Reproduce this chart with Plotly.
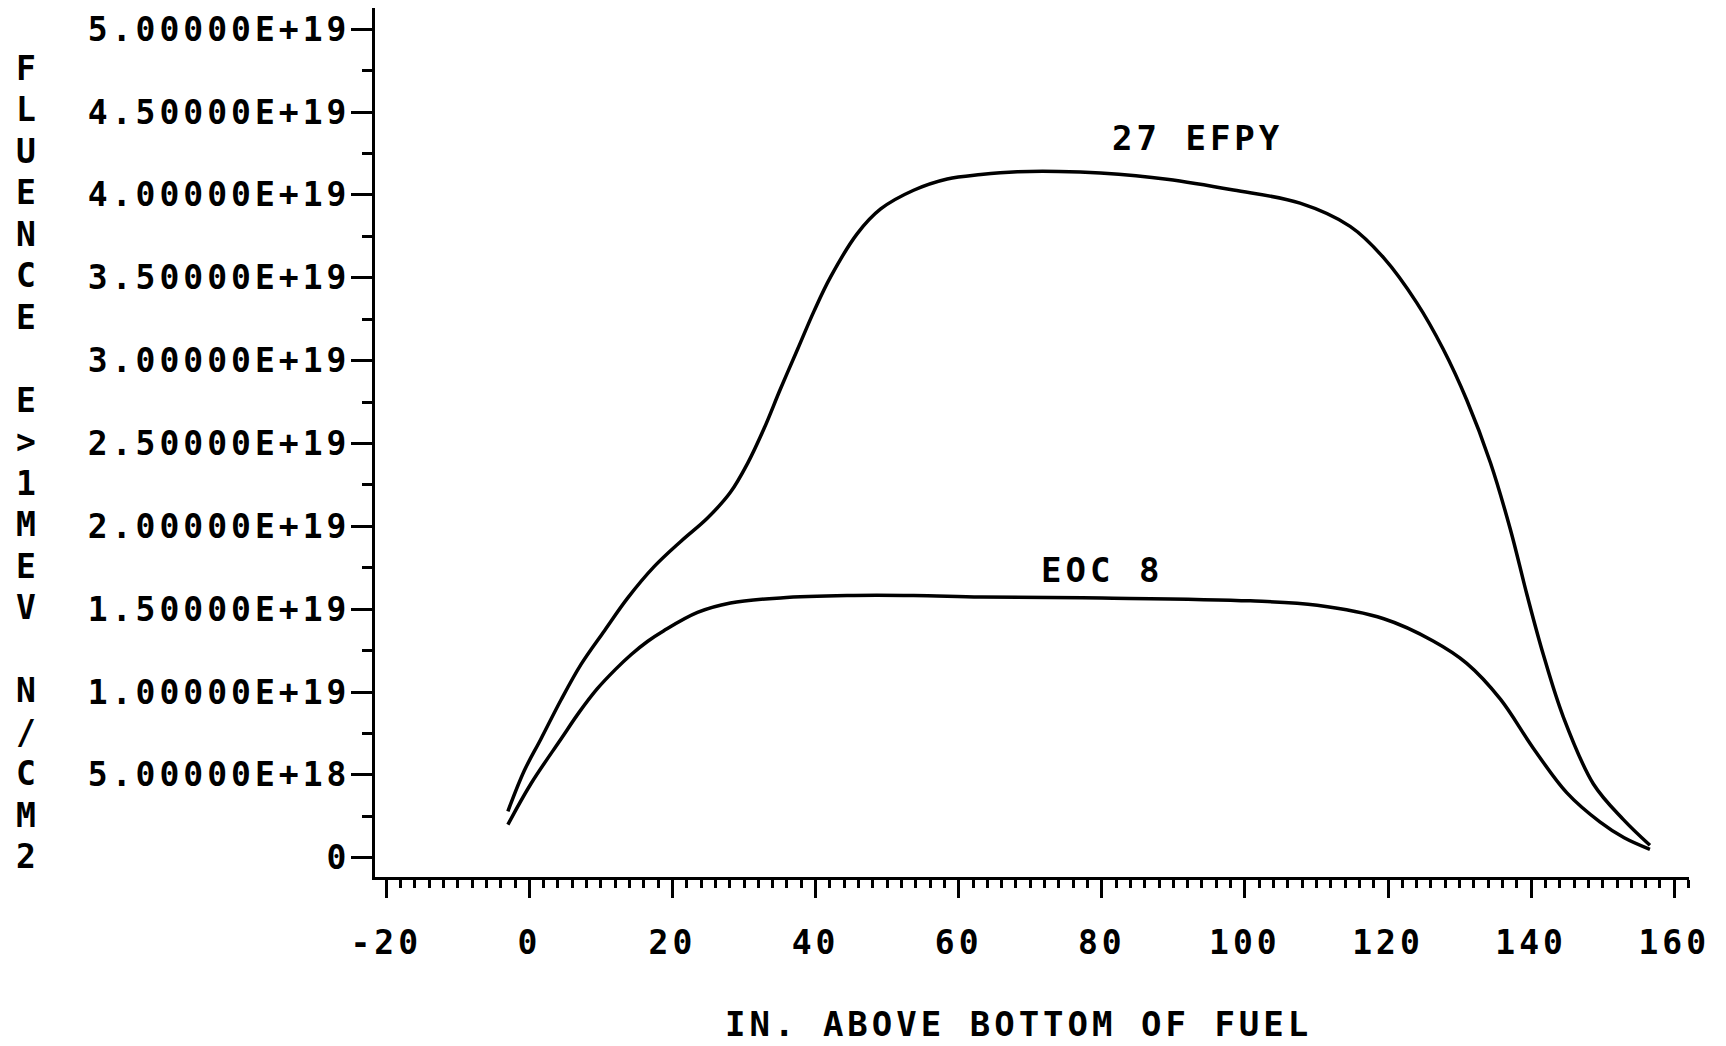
import plotly.graph_objects as go

# ---------------- data ----------------
x_27efpy = [-3.0, -0.7, 1.6, 4.4, 7.2, 10.5, 13.7, 17.4, 21.2, 24.9, 28.1, 30.5,
            32.8, 35.1, 37.5, 39.8, 42.1, 45.8, 49.1, 53.7, 58.4, 63.1, 68.2, 74.0,
            79.8, 89.1, 98.4, 107.7, 114.7, 119.4, 124.0, 127.7, 131.0, 134.3,
            137.1, 139.4, 141.7, 144.5, 148.7, 152.9, 156.6]
fluence_27efpy = [0.28e19, 0.526e19, 0.715e19, 0.950e19, 1.165e19, 1.370e19, 1.565e19,
                  1.755e19, 1.910e19, 2.050e19, 2.205e19, 2.380e19, 2.590e19, 2.830e19,
                  3.070e19, 3.300e19, 3.505e19, 3.765e19, 3.915e19, 4.028e19, 4.096e19,
                  4.123e19, 4.140e19, 4.142e19, 4.132e19, 4.095e19, 4.030e19, 3.950e19,
                  3.810e19, 3.620e19, 3.350e19, 3.070e19, 2.762e19, 2.385e19, 1.981e19,
                  1.590e19, 1.226e19, 0.849e19, 0.445e19, 0.23e19, 0.075e19]

x_eoc8 = [-3.0, 0.2, 4.4, 7.0, 9.5, 12.0, 14.2, 16.5, 18.8, 23.5, 28.1, 35.1, 44.4,
          53.7, 63.1, 80.0, 100.75, 110.1, 119.4, 126.3, 131.0, 135.7, 140.3, 145.0,
          149.6, 153.0, 156.6]
fluence_eoc8 = [0.20e19, 0.445e19, 0.715e19, 0.880e19, 1.020e19, 1.135e19, 1.225e19,
                1.305e19, 1.370e19, 1.480e19, 1.537e19, 1.568e19, 1.582e19, 1.582e19,
                1.573e19, 1.567e19, 1.550e19, 1.523e19, 1.442e19, 1.308e19, 1.173e19,
                0.957e19, 0.661e19, 0.391e19, 0.216e19, 0.12e19, 0.05e19]

y_tickvals = [0, 5e18, 1e19, 1.5e19, 2e19, 2.5e19, 3e19, 3.5e19, 4e19, 4.5e19, 5e19]
y_ticktext = ["0", "5.00000E+18", "1.00000E+19", "1.50000E+19", "2.00000E+19",
              "2.50000E+19", "3.00000E+19", "3.50000E+19", "4.00000E+19",
              "4.50000E+19", "5.00000E+19"]
x_tickvals = [-20, 0, 20, 40, 60, 80, 100, 120, 140, 160]
x_ticktext = ["-20", "0", "20", "40", "60", "80", "100", "120", "140", "160"]

curve_labels = ["27 EFPY", "EOC 8"]
label_x = [93.4, 80.0]
label_y = [4.346e19, 1.736e19]

y_title = "FLUENCE E>1MEV N/CM2"
x_title = "IN. ABOVE BOTTOM OF FUEL"

# ---------------- layout geometry ----------------
W, H = 1726, 1046
L, R, T, B = 375, 1689, 8, 877          # plot area in pixels
FONT = "DejaVu Sans Mono"
FS = 33
SP = "letter-spacing:4px"


def spaced(s):
    return '<span style="%s">%s</span>' % (SP, s)


def px_to_paper_x(px):
    return (px - L) / (R - L)


def px_to_paper_y(py):
    return (B - py) / (B - T)


fig = go.Figure()
for xs, ys in [(x_27efpy, fluence_27efpy), (x_eoc8, fluence_eoc8)]:
    fig.add_trace(go.Scatter(x=xs, y=ys, mode="lines",
                             line=dict(color="black", width=3.5, shape="spline", smoothing=1.0),
                             showlegend=False, hoverinfo="skip"))

tickfont = dict(family=FONT, size=FS, color="black", weight="bold")

fig.update_layout(
    width=W, height=H,
    margin=dict(l=L, r=W - R, t=T, b=H - B, pad=0),
    paper_bgcolor="white", plot_bgcolor="white",
    showlegend=False,
    xaxis=dict(
        range=[-21.57, 162.06], showgrid=False, zeroline=False,
        showline=True, linecolor="black", linewidth=3,
        tickmode="array", tickvals=x_tickvals, ticktext=[spaced(t) for t in x_ticktext],
        ticks="outside", ticklen=18, tickwidth=3, tickcolor="black",
        tickfont=tickfont, ticklabelstandoff=16,
        minor=dict(tickmode="linear", tick0=0, dtick=2, ticks="outside",
                   ticklen=8, tickwidth=3, tickcolor="black", showgrid=False),
    ),
    yaxis=dict(
        range=[-0.1165e19, 5.128e19], showgrid=False, zeroline=False,
        showline=True, linecolor="black", linewidth=3,
        tickmode="array", tickvals=y_tickvals, ticktext=[spaced(t) for t in y_ticktext],
        ticks="outside", ticklen=21, tickwidth=3, tickcolor="black",
        tickfont=tickfont, ticklabelstandoff=-6,
        minor=dict(tickmode="linear", tick0=0, dtick=2.5e18, ticks="outside",
                   ticklen=10, tickwidth=3, tickcolor="black", showgrid=False),
    ),
)

annotations = []
for txt, lx, ly in zip(curve_labels, label_x, label_y):
    annotations.append(dict(x=lx, y=ly, xref="x", yref="y", text=spaced(txt),
                            showarrow=False, xanchor="center", yanchor="middle",
                            font=dict(family=FONT, size=FS + 1, color="black", weight="bold")))

annotations.append(dict(x=px_to_paper_x(1018), y=px_to_paper_y(1024), xref="paper", yref="paper",
                        text=spaced(x_title), showarrow=False, xanchor="center", yanchor="middle",
                        font=dict(family=FONT, size=FS + 1, color="black", weight="bold")))

for i, ch in enumerate(y_title):
    if ch == " ":
        continue
    annotations.append(dict(x=px_to_paper_x(26), y=px_to_paper_y(68.2 + i * 41.5),
                            xref="paper", yref="paper", text=ch, showarrow=False,
                            xanchor="center", yanchor="middle",
                            font=dict(family=FONT, size=FS, color="black", weight="bold")))

fig.update_layout(annotations=annotations)
fig.write_html("out.html")
